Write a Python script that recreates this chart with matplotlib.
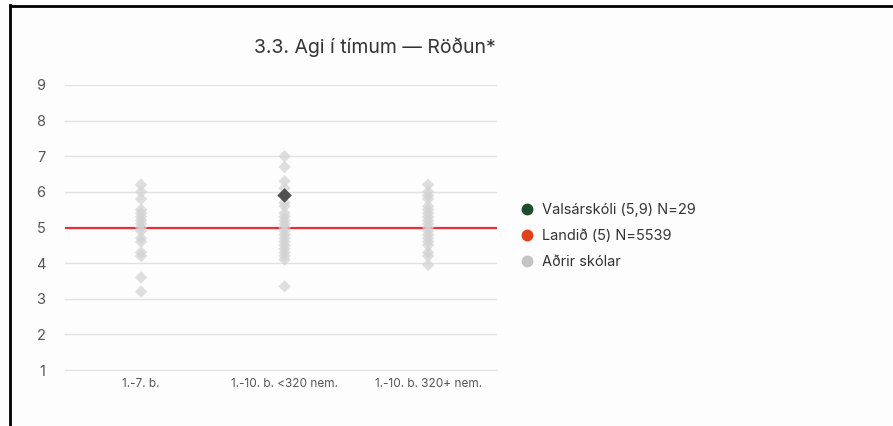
import matplotlib.pyplot as plt
from matplotlib.lines import Line2D

plt.rcParams["font.family"] = ["Inter", "DejaVu Sans"]

CATEGORIES = ["1.-7. b.", "1.-10. b. <320 nem.", "1.-10. b. 320+ nem."]

# other schools, per category
OTHERS_1_7 = [6.2, 6.0, 5.8, 5.5, 5.4, 5.3, 5.2, 5.1, 5.0, 4.9, 4.7, 4.6, 4.3, 4.2, 3.6, 3.2]
OTHERS_SMALL = [7.0, 6.7, 6.3, 6.1, 5.7, 5.6, 5.4, 5.3, 5.2, 5.1, 5.0, 4.9, 4.8,
                4.7, 4.6, 4.5, 4.4, 4.3, 4.2, 4.1, 3.35]
OTHERS_LARGE = [6.2, 6.0, 5.9, 5.8, 5.6, 5.5, 5.4, 5.3, 5.2, 5.1, 5.0, 4.9, 4.8,
                4.7, 4.6, 4.5, 4.3, 4.2, 3.95]

SCHOOL_CATEGORY = 1
SCHOOL_VALUE = 5.9
NATIONAL_VALUE = 5

SCHOOL_LABEL = "Valsárskóli (5,9) N=29"
NATIONAL_LABEL = "Landið (5) N=5539"
OTHERS_LABEL = "Aðrir skólar"
TITLE = "3.3. Agi í tímum — Röðun*"

W, H = 893, 426
fig = plt.figure(figsize=(W / 100, H / 100), dpi=100)
fig.patch.set_facecolor("#fdfdfd")
ax = fig.add_axes([65 / W, 1 - 370 / H, (497 - 65) / W, (370 - 85) / H])
ax.set_facecolor("#fdfdfd")

for i, values in enumerate([OTHERS_1_7, OTHERS_SMALL, OTHERS_LARGE]):
    ax.scatter([i] * len(values), values, marker="D", s=40, color="#d2d2d2",
               alpha=0.7, edgecolors="none", zorder=3, clip_on=False)

ax.axhline(NATIONAL_VALUE, color="#e8303a", lw=1.6, zorder=2)
ax.scatter([SCHOOL_CATEGORY], [SCHOOL_VALUE], marker="D", s=55, color="#505050",
           edgecolors="none", zorder=4)

ax.set_xlim(-0.53, 2.48)
ax.set_ylim(1, 9)
ax.set_yticks(range(1, 10))
ax.set_xticks(range(len(CATEGORIES)))
ax.set_xticklabels(CATEGORIES)
ax.grid(axis="y", color="#e2e2e2", lw=1, zorder=0)
ax.tick_params(axis="y", length=0, pad=14, labelsize=10.5, labelcolor="#555555")
ax.tick_params(axis="x", length=0, pad=6, labelsize=8.5, labelcolor="#555555")
for side in ["top", "right", "left"]:
    ax.spines[side].set_visible(False)
ax.spines["bottom"].set_color("#e2e2e2")

fig.text(375 / W, 1 - 47 / H, TITLE, ha="center", va="center", fontsize=14, color="#333333")

handles = [
    Line2D([], [], marker="o", ls="none", color="#1f4d2b", markersize=7.5),
    Line2D([], [], marker="o", ls="none", color="#e2401c", markersize=7.5),
    Line2D([], [], marker="o", ls="none", color="#c4c4c4", markersize=7.5),
]
fig.legend(handles, [SCHOOL_LABEL, NATIONAL_LABEL, OTHERS_LABEL], loc="center left",
           bbox_to_anchor=(499 / W, 1 - 236 / H), frameon=False, fontsize=10.5,
           handletextpad=0.05, labelspacing=0.85, labelcolor="#333333")

# outer frame lines on top and left
fig.add_artist(Line2D([9.5 / W, 9.5 / W], [0, 1 - 5 / H], color="black", lw=2))
fig.add_artist(Line2D([9.5 / W, 1], [1 - 5.5 / H, 1 - 5.5 / H], color="black", lw=2))

fig.savefig("out.png", dpi=100, facecolor=fig.get_facecolor())
